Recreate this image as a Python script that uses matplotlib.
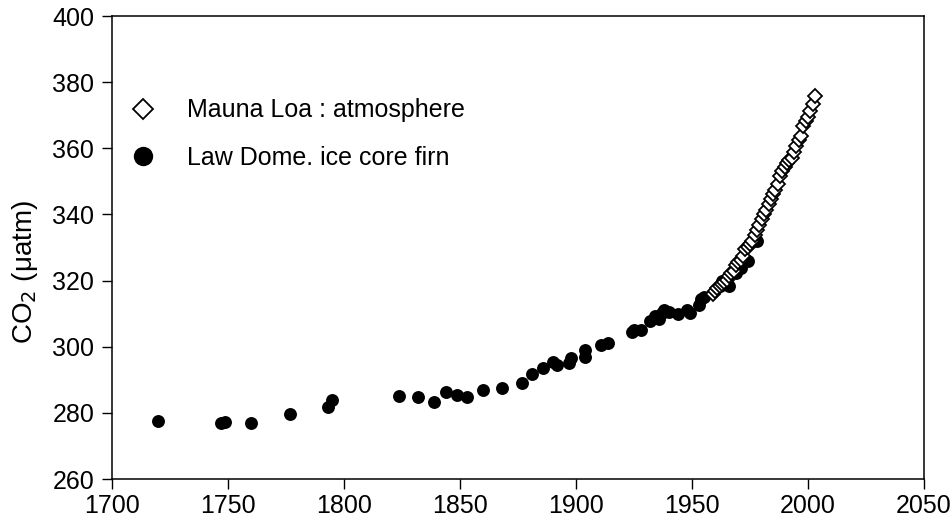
import numpy as np
import matplotlib
matplotlib.use("Agg")
import matplotlib.pyplot as plt

plt.rcParams['font.family'] = ['Liberation Sans', 'DejaVu Sans']

# Law Dome ice core / firn CO2
law_dome_year = [1720, 1747, 1749, 1760, 1777, 1793, 1795, 1824, 1832, 1839,
                 1844, 1849, 1853, 1860, 1868, 1877, 1881, 1886, 1890, 1892,
                 1897, 1898, 1904, 1904, 1911, 1914, 1924, 1925, 1928, 1932,
                 1934, 1936, 1937, 1938, 1940, 1944, 1948, 1949, 1953, 1954,
                 1955, 1962, 1963, 1966, 1969, 1971, 1974, 1978]
law_dome_co2 = [277.5, 276.9, 277.2, 276.8, 279.7, 281.7, 283.9, 285.2, 284.7, 283.2,
                286.3, 285.3, 284.8, 286.9, 287.4, 288.9, 291.8, 293.7, 295.3, 294.6,
                295.1, 296.7, 299.1, 296.9, 300.4, 301.1, 304.5, 305.2, 305.0, 307.9,
                309.2, 308.5, 310.3, 311.0, 310.5, 309.8, 311.0, 310.2, 312.7, 314.5,
                315.0, 318.5, 319.9, 318.5, 322.3, 323.7, 326.0, 332.0]

# Mauna Loa annual means
mauna_loa_year = list(range(1959, 2004))
mauna_loa_co2 = [315.98, 316.91, 317.64, 318.45, 318.99, 319.62, 320.04, 321.38,
                 322.16, 323.04, 324.62, 325.68, 326.32, 327.45, 329.68, 330.18,
                 331.11, 332.04, 333.83, 335.40, 336.84, 338.75, 340.11, 341.45,
                 343.05, 344.65, 346.12, 347.42, 349.19, 351.57, 353.12, 354.39,
                 355.61, 356.45, 357.10, 358.83, 360.82, 362.61, 363.73, 366.70,
                 368.38, 369.55, 371.14, 373.28, 375.80]

x_ticks = [1700, 1750, 1800, 1850, 1900, 1950, 2000, 2050]
y_ticks = [260, 280, 300, 320, 340, 360, 380, 400]

fs = 18

fig = plt.figure(figsize=(9.52, 5.25), dpi=100)
ax = fig.add_axes([0.1173, 0.0876, 0.8533, 0.8819])

ld, = ax.plot(law_dome_year, law_dome_co2, 'o', color='black',
              markersize=9.3, markeredgewidth=0, zorder=2,
              label='Law Dome. ice core firn')
ml, = ax.plot(mauna_loa_year, mauna_loa_co2, 'D', markerfacecolor='white',
              markeredgecolor='black', markersize=6.8, markeredgewidth=1.3,
              zorder=3, label='Mauna Loa : atmosphere')

ax.set_xlim(1700, 2050)
ax.set_ylim(260, 400)
ax.set_xticks(x_ticks)
ax.set_yticks(y_ticks)
ax.tick_params(axis='both', direction='out', length=7.5, width=1.0,
               labelsize=fs, top=False, right=False)
ax.tick_params(axis='y', pad=5)
ax.tick_params(axis='x', pad=3)
for s in ax.spines.values():
    s.set_linewidth(1.1)

fig.text(25 / 952, 1 - 272 / 525, r'CO$_2$ ($\mathregular{\mu}$atm)',
         rotation=90, ha='center', va='center', fontsize=20)

ax.legend(handles=[ml, ld], loc='upper left', bbox_to_anchor=(0.0232, 0.822),
          frameon=False, fontsize=fs, handlelength=1.0, handletextpad=1.26,
          labelspacing=0.95, borderpad=0, borderaxespad=0, markerscale=1.5)

fig.savefig('out.png', dpi=100)
